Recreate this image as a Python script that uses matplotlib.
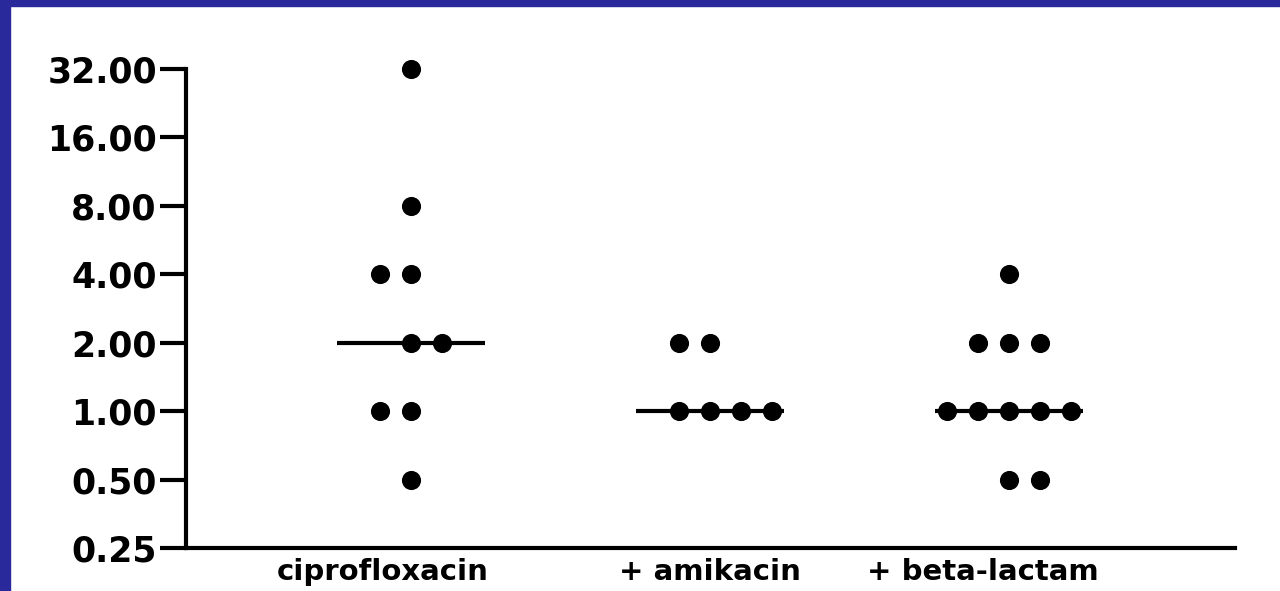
import matplotlib
matplotlib.use("Agg")
import matplotlib.pyplot as plt
from matplotlib.patches import Rectangle

# ---- data ----
groups = ["ciprofloxacin", "+ amikacin", "+ beta-lactam"]
cipro_values = [32, 8, 4, 4, 2, 2, 1, 1, 0.5]
amikacin_values = [2, 2, 1, 1, 1, 1]
betalactam_values = [4, 2, 2, 2, 1, 1, 1, 1, 1, 0.5, 0.5]
medians = [2, 1, 1]
yticks = [0.25, 0.5, 1, 2, 4, 8, 16, 32]
ytick_labels = ["0.25", "0.50", "1.00", "2.00", "4.00", "8.00", "16.00", "32.00"]

# ---- layout (horizontal slot of each dot within its column) ----
cipro_slots = [0, 0, -1, 0, 0, 1, -1, 0, 0]
amikacin_slots = [-1, 0, -1, 0, 1, 2]
betalactam_slots = [0, -1, 0, 1, -2, -1, 0, 1, 2, 0, 1]
label_pos = [0.906, 2.0, 2.913]
slot_w = 0.104
median_half = 0.246

fig = plt.figure(figsize=(12.8, 5.91), dpi=100)
fig.patch.set_facecolor("white")
blue = "#29299b"
fig.add_artist(Rectangle((0, 0), 10 / 1280, 1, transform=fig.transFigure,
                         color=blue, zorder=10))
fig.add_artist(Rectangle((0, 1 - 6 / 591), 1, 6 / 591, transform=fig.transFigure,
                         color=blue, zorder=10))

ax = fig.add_axes([186 / 1280, 1 - 548 / 591, (1235 - 186) / 1280, (548 - 69) / 591])
ax.set_yscale("log", base=2)
ax.set_ylim(0.25, 32)
ax.set_xlim(0.2475, 3.756)

all_vals = [cipro_values, amikacin_values, betalactam_values]
all_slots = [cipro_slots, amikacin_slots, betalactam_slots]
for gi, (vals, slots) in enumerate(zip(all_vals, all_slots)):
    c = gi + 1
    xs = [c + s * slot_w for s in slots]
    ax.plot([c - median_half, c + median_half], [medians[gi], medians[gi]],
            color="black", lw=3.0, solid_capstyle="butt", zorder=2)
    ax.scatter(xs, vals, s=190, color="black", zorder=3, clip_on=False,
               linewidths=0)

for side in ["top", "right"]:
    ax.spines[side].set_visible(False)
ax.spines["left"].set_linewidth(3)
ax.spines["bottom"].set_linewidth(3)

ax.set_yticks(yticks)
ax.set_yticklabels(ytick_labels)
ax.yaxis.set_minor_locator(matplotlib.ticker.NullLocator())
ax.tick_params(axis="y", which="major", length=19, width=3, pad=2,
               labelsize=25, direction="out")
for t in ax.get_yticklabels():
    t.set_fontweight("bold")
    t.set_family("DejaVu Sans")

ax.set_xticks(label_pos)
ax.set_xticklabels(groups)
ax.tick_params(axis="x", length=0, pad=7, labelsize=21)
for t in ax.get_xticklabels():
    t.set_fontweight("bold")
    t.set_family("DejaVu Sans")

fig.savefig("out.png", dpi=100, facecolor="white")
